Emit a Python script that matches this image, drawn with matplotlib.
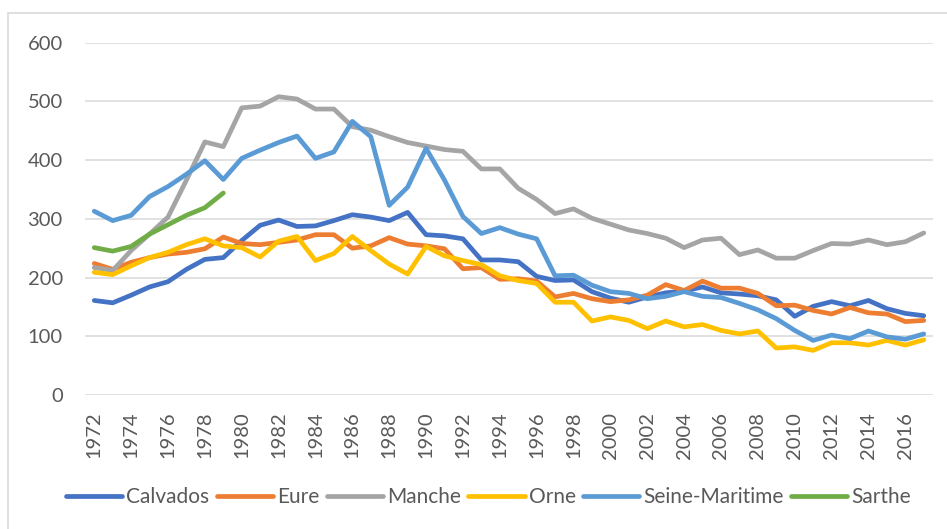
import matplotlib.pyplot as plt
import matplotlib.patches as mpatches

years = list(range(1972, 2018))

calvados = [161, 157, 170, 184, 193, 214, 231, 234, 263, 289,
            298, 287, 288, 297, 307, 303, 297, 311, 273, 271,
            266, 230, 230, 227, 202, 195, 196, 176, 165, 158,
            167, 174, 177, 184, 174, 172, 169, 162, 134, 151,
            159, 152, 161, 147, 139, 135]
eure = [224, 214, 226, 234, 240, 243, 249, 269, 258, 256,
        260, 264, 273, 273, 250, 254, 268, 257, 254, 249,
        215, 217, 197, 198, 194, 167, 173, 164, 159, 162,
        170, 188, 178, 194, 182, 182, 173, 152, 153, 144,
        138, 149, 140, 138, 125, 127]
manche = [217, 212, 246, 274, 303, 366, 431, 423, 489, 492,
          508, 504, 487, 487, 457, 451, 440, 430, 424, 418,
          415, 385, 385, 352, 333, 309, 317, 301, 291, 281,
          275, 267, 251, 264, 267, 239, 247, 233, 233, 246,
          258, 257, 264, 256, 261, 276]
orne = [209, 205, 220, 234, 243, 256, 266, 254, 251, 235,
        262, 270, 229, 241, 270, 246, 223, 206, 253, 237,
        229, 222, 203, 195, 190, 158, 158, 126, 133, 127,
        113, 126, 116, 120, 110, 104, 109, 80, 82, 76,
        89, 89, 85, 93, 85, 94]
seine_maritime = [313, 297, 306, 338, 355, 376, 399, 367, 403, 417,
                  430, 441, 403, 414, 466, 440, 323, 354, 420, 366,
                  304, 275, 285, 274, 266, 203, 204, 187, 176, 173,
                  164, 168, 176, 168, 166, 156, 145, 130, 110, 93,
                  102, 96, 109, 99, 95, 104]
sarthe_years = list(range(1972, 1980))
sarthe = [251, 245, 253, 274, 290, 306, 319, 344]

series = [
    ('Calvados', years, calvados, '#4472C4'),
    ('Eure', years, eure, '#ED7D31'),
    ('Manche', years, manche, '#A5A5A5'),
    ('Orne', years, orne, '#FFC000'),
    ('Seine-Maritime', years, seine_maritime, '#5B9BD5'),
    ('Sarthe', sarthe_years, sarthe, '#70AD47'),
]

plt.rcParams['font.family'] = ['Lato', 'DejaVu Sans']
text_color = '#595959'
grid_color = '#D9D9D9'

fig = plt.figure(figsize=(9.47, 5.29), dpi=100)
ax = fig.add_axes([0.0898, 0.2533, 0.8954, 0.666])

for name, xs, ys, color in series:
    ax.plot(xs, ys, color=color, lw=3.4, label=name,
            solid_capstyle='round', solid_joinstyle='round')

ax.set_xlim(1971.5, 2017.5)
ax.set_ylim(0, 600)
ax.set_yticks(range(0, 601, 100))
ax.set_xticks(range(1972, 2017, 2))
ax.set_xticklabels([str(y) for y in range(1972, 2017, 2)], rotation=90)

ax.grid(axis='y', color=grid_color, lw=1.1)
ax.set_axisbelow(True)
for spine in ax.spines.values():
    spine.set_visible(False)
ax.tick_params(axis='both', length=0, labelsize=14.5, colors=text_color)
ax.tick_params(axis='y', pad=16)
ax.tick_params(axis='x', pad=12)

fig.legend(loc='center', bbox_to_anchor=(0.516, 0.0605), ncol=6,
           frameon=False, fontsize=15, handlelength=2.7,
           handletextpad=0.2, columnspacing=0.35, labelcolor=text_color)

# chart area border
fig.patches.append(mpatches.Rectangle((8 / 947, -0.1), 1.1, 1 - 13 / 529 + 0.1,
                                      transform=fig.transFigure, fill=False,
                                      edgecolor=grid_color, lw=1.2))

fig.savefig('out.png', dpi=100)
